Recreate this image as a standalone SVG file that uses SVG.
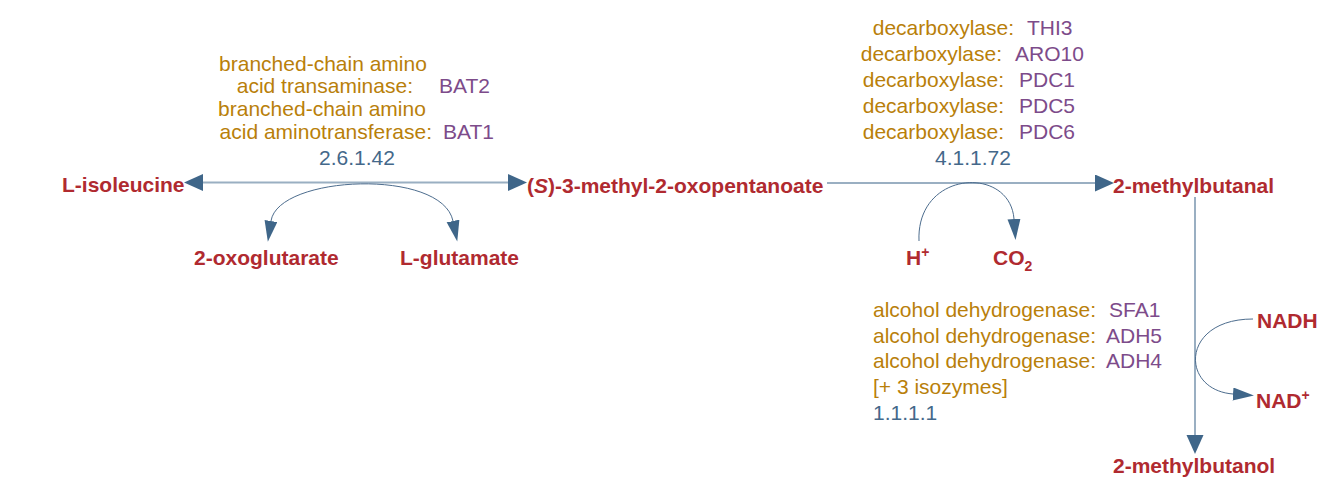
<svg xmlns="http://www.w3.org/2000/svg" width="1332" height="486" viewBox="0 0 1332 486">
<style>
text{font-family:"Liberation Sans",Arial,Helvetica,sans-serif;font-size:21px}
.cpd{fill:#b02a30;font-weight:bold}
.enz{fill:#b97f0a}
.gene{fill:#7d4b8a}
.ec{fill:#44688a}
.main{fill:none;stroke:#9aafc2;stroke-width:2}
.side{fill:none;stroke:#4d6d8e;stroke-width:1}
</style>
<defs>
<marker id="ah" markerUnits="userSpaceOnUse" markerWidth="20" markerHeight="18" refX="0" refY="8.5" orient="auto-start-reverse" viewBox="0 0 20 18">
<path d="M0,0 L19,8.5 L0,17 z" fill="#3f6689"/>
</marker>
<marker id="ahs" markerUnits="userSpaceOnUse" markerWidth="22" markerHeight="14" refX="0" refY="6.5" orient="auto-start-reverse" viewBox="0 0 22 14">
<path d="M0,0 L21,6.5 L0,13 z" fill="#3f6689"/>
</marker>
</defs>
<g id="connectors">
<path class="main" d="M203 182.5 L508 182.5" marker-start="url(#ah)" marker-end="url(#ah)"/>
<path class="side" d="M271 221 C278 175, 442 168, 453 221" marker-start="url(#ahs)" marker-end="url(#ahs)"/>
<path class="main" d="M827 183 L1095 183" marker-end="url(#ah)"/>
<path class="side" d="M919 241 C916 170, 1010 165, 1014 219" marker-end="url(#ahs)"/>
<path class="main" d="M1195 197 L1195 435" marker-end="url(#ah)"/>
<path class="side" d="M1253 319 C1180 319, 1180 390, 1233 394" marker-end="url(#ahs)"/>
</g>
<g id="L-isoleucine"><text class="cpd" x="62" y="192">L-isoleucine</text></g>
<g id="oxopentanoate"><text class="cpd" x="527" y="193">(<tspan font-style="italic">S</tspan>)-3-methyl-2-oxopentanoate</text></g>
<g id="methylbutanal"><text class="cpd" x="1113" y="193">2-methylbutanal</text></g>
<g id="methylbutanol"><text class="cpd" x="1113" y="473">2-methylbutanol</text></g>
<g id="oxoglutarate"><text class="cpd" x="194" y="265">2-oxoglutarate</text></g>
<g id="glutamate"><text class="cpd" x="400" y="265">L-glutamate</text></g>
<g id="Hplus"><text class="cpd" x="906" y="265">H<tspan font-size="14" dy="-8">+</tspan></text></g>
<g id="CO2"><text class="cpd" x="993" y="265">CO<tspan font-size="14" dy="6">2</tspan></text></g>
<g id="NADH"><text class="cpd" x="1257" y="328">NADH</text></g>
<g id="NADplus"><text class="cpd" x="1256" y="408">NAD<tspan font-size="14" dy="-8">+</tspan></text></g>
<g id="enzyme-transaminase">
<text class="enz" x="323" y="71" text-anchor="middle">branched-chain amino</text>
<text class="enz" x="413" y="93" text-anchor="end">acid transaminase:</text>
<text class="gene" x="439" y="93">BAT2</text>
<text class="enz" x="322" y="116" text-anchor="middle">branched-chain amino</text>
<text class="enz" x="432" y="139" text-anchor="end">acid aminotransferase:</text>
<text class="gene" x="443" y="139">BAT1</text>
<text class="ec" x="357" y="165" text-anchor="middle">2.6.1.42</text>
</g>
<g id="enzyme-decarboxylase">
<text class="enz" x="1014" y="35" text-anchor="end">decarboxylase:</text><text class="gene" x="1027" y="35">THI3</text>
<text class="enz" x="1002" y="61" text-anchor="end">decarboxylase:</text><text class="gene" x="1015" y="61">ARO10</text>
<text class="enz" x="1004" y="87" text-anchor="end">decarboxylase:</text><text class="gene" x="1019" y="87">PDC1</text>
<text class="enz" x="1004" y="113" text-anchor="end">decarboxylase:</text><text class="gene" x="1019" y="113">PDC5</text>
<text class="enz" x="1004" y="139" text-anchor="end">decarboxylase:</text><text class="gene" x="1019" y="139">PDC6</text>
<text class="ec" x="973" y="165" text-anchor="middle">4.1.1.72</text>
</g>
<g id="enzyme-adh">
<text class="enz" x="873" y="317">alcohol dehydrogenase:</text><text class="gene" x="1109" y="317">SFA1</text>
<text class="enz" x="873" y="343">alcohol dehydrogenase:</text><text class="gene" x="1106" y="343">ADH5</text>
<text class="enz" x="873" y="368">alcohol dehydrogenase:</text><text class="gene" x="1106" y="368">ADH4</text>
<text class="enz" x="873" y="394">[+ 3 isozymes]</text>
<text class="ec" x="873" y="420">1.1.1.1</text>
</g>
</svg>
